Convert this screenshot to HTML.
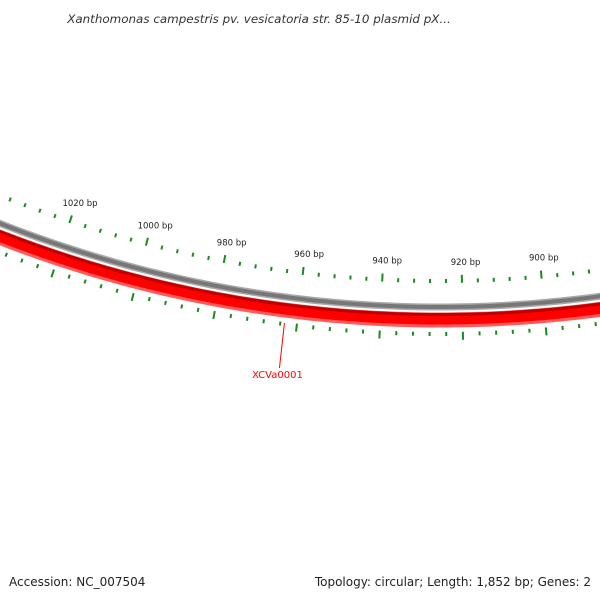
<!DOCTYPE html>
<html><head><meta charset="utf-8"><style>
body{margin:0;background:#fff;}
svg{display:block;font-family:"DejaVu Sans","Liberation Sans",sans-serif;}
</style></head><body>
<svg id="map" width="600" height="600" viewBox="0 0 600 600" xmlns="http://www.w3.org/2000/svg">
<text x="259" y="23" text-anchor="middle" font-size="11.9" font-style="italic" fill="#333">Xanthomonas campestris pv. vesicatoria str. 85-10 plasmid pX...</text>
<g id="rings"></g>
<g id="ticks"></g>
<g id="labels"></g>
<text x="9" y="586" font-size="12" fill="#222">Accession: NC_007504</text>
<text x="591" y="586" font-size="12" text-anchor="end" fill="#222">Topology: circular; Length: 1,852 bp; Genes: 2</text>
</svg>
<script>
const genomeLength = 1852;
const majorTicks = [880, 900, 920, 940, 960, 980, 1000, 1020, 1040];
const majorLabels = ["880 bp","900 bp","920 bp","940 bp","960 bp","980 bp","1000 bp","1020 bp",""];
const minorStep = 4;
const geneNames = ["XCVa0001"];
const geneStarts = [700];
const geneEnds = [1300];
const geneLabelPos = [963];

const NS = "http://www.w3.org/2000/svg";
const cx = 440, cy = -893, b0 = 925.5;
function ang(bp){ return (bp - b0) * 2 * Math.PI / genomeLength; }
function pt(bp, r){ const t = ang(bp); return [cx - r * Math.sin(t), cy + r * Math.cos(t)]; }
function arcPath(b1, b2, r){
  let d = "";
  for (let b = b1; b <= b2; b += 2){ const p = pt(b, r); d += (d ? "L" : "M") + p[0].toFixed(2) + "," + p[1].toFixed(2); }
  return d;
}
function mk(tag, attrs, parent){
  const e = document.createElementNS(NS, tag);
  for (const k in attrs) e.setAttribute(k, attrs[k]);
  parent.appendChild(e); return e;
}
const rings = document.getElementById("rings");
const ticks = document.getElementById("ticks");
const labels = document.getElementById("labels");

let bb = mk("path", {d: arcPath(840, 1080, 1200), fill: "none", stroke: "#aaa", "stroke-width": 7}, rings);


let bb2 = mk("path", {d: arcPath(840, 1080, 1200), fill: "none", stroke: "#777", "stroke-width": 4}, rings);



geneNames.forEach((g, i) => {
  const s = Math.max(geneStarts[i], 840), e = Math.min(geneEnds[i], 1080);
  const a = mk("path", {d: arcPath(s, e, 1213), fill: "none", stroke: "#ff5a5a", "stroke-width": 15}, rings);
  
  
  const b = mk("path", {d: arcPath(s, e, 1212), fill: "none", stroke: "#ff0000", "stroke-width": 11}, rings);
  
  
  const c = mk("path", {d: arcPath(s, e, 1207.5), fill: "none", stroke: "#c00000", "stroke-width": 3}, rings);
  
  
  const p1 = pt(geneLabelPos[i], 1226);
  const l = mk("line", {x1: p1[0], y1: p1[1], x2: p1[0] - 5, y2: p1[1] + 45, stroke: "#f00", "stroke-width": 1}, labels);
  
  
  const t = mk("text", {x: p1[0] - 7, y: p1[1] + 55, "text-anchor": "middle", "font-size": 10, fill: "#f00"}, labels);
  t.textContent = g;
  
  
});

for (let b = majorTicks[0]; b <= majorTicks[majorTicks.length - 1]; b += minorStep){
  const major = majorTicks.includes(b);
  const o1 = pt(b, 1176), o2 = pt(b, major ? 1168 : 1172);
  const t1 = mk("line", {x1: o1[0], y1: o1[1], x2: o2[0], y2: o2[1], stroke: "#1a8a1a", "stroke-width": 2}, ticks);
  
  
  const i1 = pt(b, 1225), i2 = pt(b, major ? 1233 : 1229);
  const t2 = mk("line", {x1: i1[0], y1: i1[1], x2: i2[0], y2: i2[1], stroke: "#1a8a1a", "stroke-width": 2}, ticks);
  
  
}
majorTicks.forEach((b, i) => {
  if (!majorLabels[i]) return;
  const p = pt(b, 1155);
  const t = mk("text", {x: p[0] + 4, y: p[1] + 3, "text-anchor": "middle", "font-size": 8.5, fill: "#222"}, labels);
  t.textContent = majorLabels[i];
  
  
});
</script>
</body></html>
